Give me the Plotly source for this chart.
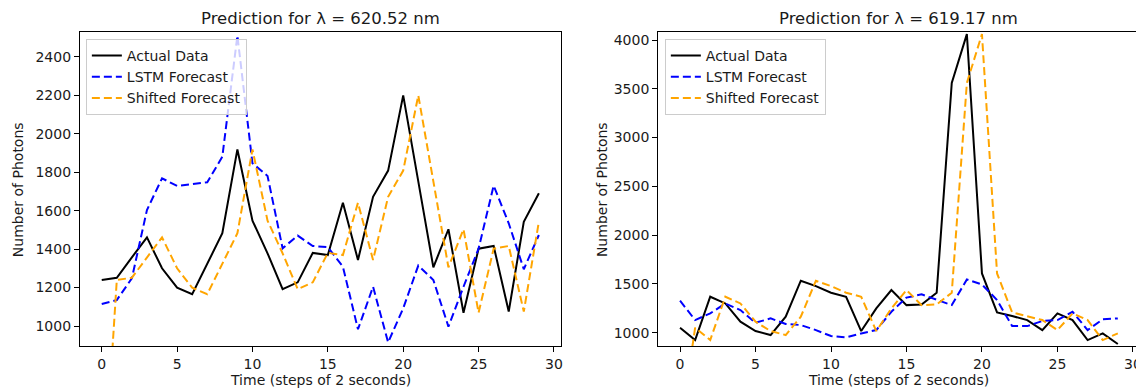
import plotly.graph_objects as go

# ---------------- data ----------------
steps = list(range(30))

actual_620 = [1239, 1251, 1357, 1461, 1300, 1199, 1165, 1326, 1482, 1918,
              1548, 1378, 1191, 1227, 1380, 1369, 1641, 1343, 1672, 1808,
              2199, 1752, 1305, 1503, 1069, 1402, 1416, 1075, 1542, 1690]
lstm_620 = [1114, 1135, 1248, 1603, 1768, 1728, 1738, 1747, 1880, 2510,
            1846, 1780, 1404, 1470, 1416, 1410, 1308, 983, 1204, 915,
            1092, 1314, 1239, 997, 1204, 1402, 1730, 1534, 1295, 1473]
shifted_620 = [0, 1239, 1251, 1357, 1461, 1300, 1199, 1165, 1326, 1482,
               1918, 1548, 1378, 1191, 1227, 1380, 1369, 1641, 1343, 1672,
               1808, 2199, 1752, 1305, 1503, 1069, 1402, 1416, 1075, 1542]

actual_619 = [1051, 925, 1369, 1300, 1113, 1017, 976, 1164, 1533, 1478,
              1410, 1369, 1017, 1249, 1437, 1283, 1290, 1410, 3560, 4060,
              1608, 1208, 1171, 1130, 1027, 1198, 1130, 925, 993, 884]
lstm_619 = [1328, 1130, 1198, 1300, 1232, 1102, 1147, 1089, 1079, 1027,
            966, 952, 993, 1027, 1215, 1360, 1393, 1335, 1283, 1546,
            1495, 1335, 1068, 1068, 1120, 1130, 1215, 1027, 1137, 1147]
shifted_619 = [0, 1051, 925, 1369, 1300, 1113, 1017, 976, 1164, 1533,
               1478, 1410, 1369, 1017, 1249, 1437, 1283, 1290, 1410, 3560,
               4060, 1608, 1208, 1171, 1130, 1027, 1198, 1130, 925, 993]

titles = ["Prediction for λ = 620.52 nm", "Prediction for λ = 619.17 nm"]
x_ticks = [0, 5, 10, 15, 20, 25, 30]
y_ticks_620 = [1000, 1200, 1400, 1600, 1800, 2000, 2200, 2400]
y_ticks_619 = [1000, 1500, 2000, 2500, 3000, 3500, 4000]

# ---------------- layout helpers ----------------
OFF = 8                      # default page body margin
W, H = 1144 - OFF, 388 - OFF
FONT = "DejaVu Sans"
TXT = "#1a1a1a"

def px_x(p):
    return (p - OFF) / W

def px_y(p):
    return 1 - (p - OFF) / H

fig = go.Figure()

panels = [
    (actual_620, lstm_620, shifted_620, "x", "y", "legend"),
    (actual_619, lstm_619, shifted_619, "x2", "y2", "legend2"),
]
for act, lstm, shf, xa, ya, lg in panels:
    fig.add_trace(go.Scatter(x=steps, y=act, mode="lines", name="Actual Data",
                             line=dict(color="black", width=2),
                             xaxis=xa, yaxis=ya, legend=lg))
    fig.add_trace(go.Scatter(x=steps, y=lstm, mode="lines", name="LSTM Forecast",
                             line=dict(color="#0000ff", width=2, dash="8px,4px"),
                             xaxis=xa, yaxis=ya, legend=lg))
    fig.add_trace(go.Scatter(x=steps, y=shf, mode="lines", name="Shifted Forecast",
                             line=dict(color="#ffa500", width=2, dash="8px,4px"),
                             xaxis=xa, yaxis=ya, legend=lg))

axis_common = dict(showline=True, mirror=True, linecolor="black", linewidth=1,
                   ticks="outside", ticklen=5, tickcolor="black", tickwidth=1,
                   showgrid=False, zeroline=False,
                   tickfont=dict(family=FONT, size=14, color=TXT))

top_px, bot_px = 32.3, 346
ydom = [px_y(bot_px), px_y(top_px)]
L1, R1 = 80, 561.7
L2, R2 = 659.3, 1141.7

fig.update_layout(
    width=W, height=H,
    margin=dict(l=0, r=0, t=0, b=0),
    plot_bgcolor="white", paper_bgcolor="white",
    font=dict(family=FONT, size=14, color=TXT),
    xaxis=dict(domain=[px_x(L1), px_x(R1)], range=[-1.45, 30.45],
               tickvals=x_ticks, anchor="y", **axis_common),
    yaxis=dict(domain=ydom, range=[896, 2527], tickvals=y_ticks_620,
               anchor="x", **axis_common),
    xaxis2=dict(domain=[px_x(L2), px_x(R2)], range=[-1.45, 30.45],
                tickvals=x_ticks, anchor="y2", **axis_common),
    yaxis2=dict(domain=ydom, range=[864, 4079], tickvals=y_ticks_619,
                anchor="x2", **axis_common),
    legend=dict(x=px_x(86), y=px_y(39), xanchor="left", yanchor="top",
                bgcolor="rgba(255,255,255,0.8)", bordercolor="#cccccc",
                borderwidth=1, font=dict(family=FONT, size=14, color=TXT),
                tracegroupgap=0),
    legend2=dict(x=px_x(666), y=px_y(39), xanchor="left", yanchor="top",
                 bgcolor="rgba(255,255,255,0.8)", bordercolor="#cccccc",
                 borderwidth=1, font=dict(family=FONT, size=14, color=TXT),
                 tracegroupgap=0),
)

annots = []
for title, (l, r), ylab_x in zip(titles, [(L1, R1), (L2, R2)], [18, 603]):
    cx = (l + r) / 2
    annots.append(dict(text=title, x=px_x(cx), y=px_y(29), xref="paper", yref="paper",
                       xanchor="center", yanchor="bottom", showarrow=False, borderpad=0,
                       font=dict(family=FONT, size=16.5, color=TXT)))
    annots.append(dict(text="Time (steps of 2 seconds)", x=px_x(cx), y=px_y(380),
                       xref="paper", yref="paper", xanchor="center", yanchor="middle",
                       showarrow=False, font=dict(family=FONT, size=14, color=TXT)))
    annots.append(dict(text="Number of Photons", x=px_x(ylab_x), y=px_y((top_px + bot_px) / 2),
                       xref="paper", yref="paper", xanchor="center", yanchor="middle",
                       textangle=-90, showarrow=False,
                       font=dict(family=FONT, size=14, color=TXT)))
fig.update_layout(annotations=annots)

fig.write_html("out.html")
